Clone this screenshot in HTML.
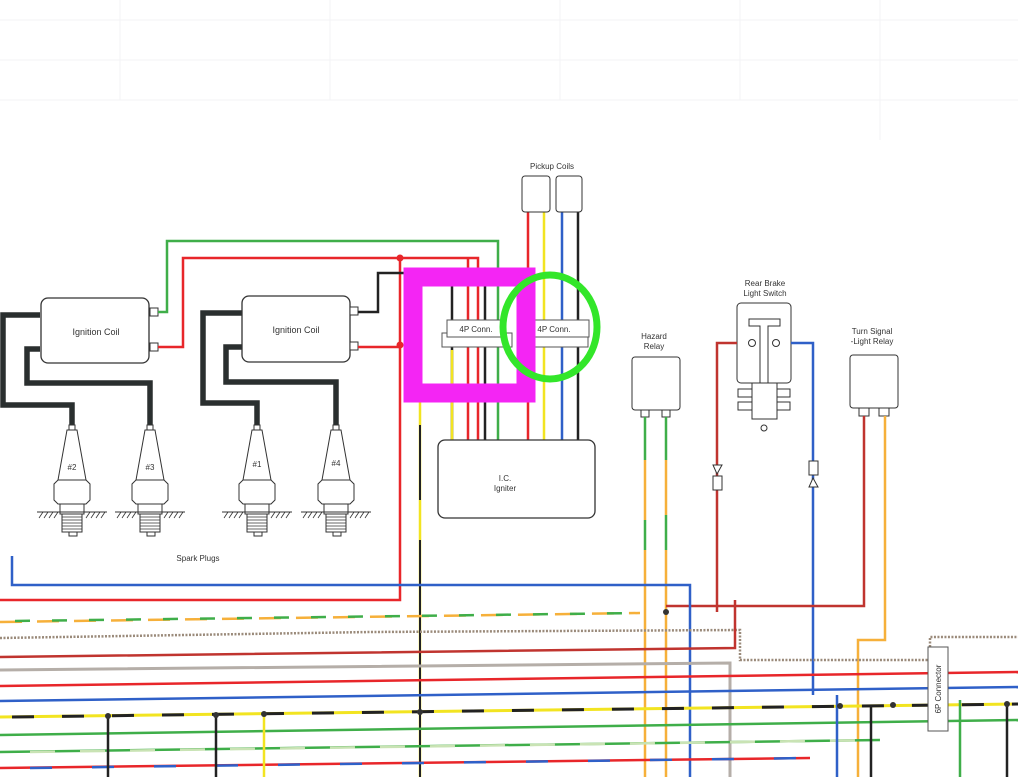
<!DOCTYPE html>
<html><head><meta charset="utf-8"><style>
html,body{margin:0;padding:0;background:#fff;}
svg{display:block;}
text{font-family:"Liberation Sans",sans-serif;fill:#333;}
</style></head><body>
<svg width="1018" height="777" viewBox="0 0 1018 777" xmlns="http://www.w3.org/2000/svg">
<defs>
<g id="plug">
  <path d="M-3,-5 L3,-5 L3,0 L-3,0Z" fill="#fff" stroke="#333"/>
  <path d="M-5,0 L5,0 L14,50 L-14,50Z" fill="#fff" stroke="#333"/>
  <path d="M-18,54 L-14,50 L14,50 L18,54 L18,70 L14,74 L-14,74 L-18,70Z" fill="#fff" stroke="#333"/>
  <rect x="-12" y="74" width="24" height="10" fill="#fff" stroke="#333"/>
  <rect x="-10" y="84" width="20" height="18" fill="#fff" stroke="#333"/>
  <path d="M-10,87h20M-10,90h20M-10,93h20M-10,96h20M-10,99h20" stroke="#333" stroke-width="0.8"/>
  <path d="M-3,102 v4 h8 v-4" fill="none" stroke="#333"/>
  <path d="M-35,82 H35" stroke="#333"/>
  <path d="M-33,88 l4,-6 M-28,88 l4,-6 M-23,88 l4,-6 M-18,88 l4,-6 M14,88 l4,-6 M19,88 l4,-6 M24,88 l4,-6 M29,88 l4,-6" stroke="#333" stroke-width="0.8"/>
</g>
</defs>

<g stroke="#f3f3f6" stroke-width="1" fill="none">
  <path d="M0,60 H1018 M0,100 H1018 M120,0 V100 M330,0 V100 M560,0 V100 M740,0 V100 M880,0 V140 M0,20 H1018"/>
</g>

<g stroke="#2a2f2f" stroke-width="5.5" fill="none">
  <path d="M40,315 H3 V405 H72 V428"/>
  <path d="M40,349 H27 V383 H150 V428"/>
  <path d="M242,313 H203 V403 H257 V428"/>
  <path d="M242,347 H226 V382 H336 V428"/>
</g>

<rect x="41" y="298" width="108" height="65" rx="7" fill="#fff" stroke="#333" stroke-width="1.3"/>
<text x="96" y="335" font-size="9" text-anchor="middle">Ignition Coil</text>
<rect x="242" y="296" width="108" height="66" rx="7" fill="#fff" stroke="#333" stroke-width="1.3"/>
<text x="296" y="333" font-size="9" text-anchor="middle">Ignition    Coil</text>
<g fill="#fff" stroke="#333">
  <rect x="150" y="308" width="8" height="8"/><rect x="150" y="343" width="8" height="8"/>
  <rect x="350" y="307" width="8" height="8"/><rect x="350" y="342" width="8" height="8"/>
</g>

<use href="#plug" x="72" y="430"/>
<use href="#plug" x="150" y="430"/>
<use href="#plug" x="257" y="430"/>
<use href="#plug" x="336" y="430"/>
<text x="72" y="470" font-size="8" text-anchor="middle">#2</text>
<text x="150" y="470" font-size="8" text-anchor="middle">#3</text>
<text x="257" y="467" font-size="8" text-anchor="middle">#1</text>
<text x="336" y="466" font-size="8" text-anchor="middle">#4</text>
<text x="198" y="561" font-size="8" text-anchor="middle">Spark Plugs</text>

<g fill="none" stroke-width="2.5">
  <path d="M158,312 H167 V241 H498 V440" stroke="#3fae49"/>
  <path d="M158,347 H183 V258 H478 V440" stroke="#e8262a"/>
  <path d="M358,347 H400" stroke="#e8262a"/>
  <path d="M400,258 V600 H0" stroke="#e8262a"/>
  <path d="M358,312 H378 V273 H452 V440" stroke="#222"/>
  <path d="M468,258 V440" stroke="#e8262a"/>
  <path d="M485,285 V440" stroke="#222"/>
  <path d="M420,390 V777" stroke="#f2e421"/>
  <path d="M420,425 V500 M420,540 V777" stroke="#222" stroke-width="2"/>
  <path d="M528,212 V440" stroke="#e8262a"/>
  <path d="M544,212 V440" stroke="#f2e421"/>
  <path d="M562,212 V440" stroke="#2f60c8"/>
  <path d="M578,212 V440" stroke="#222"/>
  <path d="M452,350 V440" stroke="#f2e421"/>
</g>
<circle cx="400" cy="258" r="3.5" fill="#e8262a"/>
<circle cx="400" cy="345" r="3.5" fill="#e8262a"/>

<text x="552" y="169" font-size="8" text-anchor="middle">Pickup Coils</text>
<rect x="522" y="176" width="28" height="36" rx="3" fill="#fff" stroke="#333"/>
<rect x="556" y="176" width="26" height="36" rx="3" fill="#fff" stroke="#333"/>

<g fill="#fff" stroke="#555">
  <rect x="442" y="333" width="70" height="14"/>
  <rect x="447" y="320" width="58" height="17"/>
  <rect x="534" y="333" width="54" height="14"/>
  <rect x="535" y="320" width="54" height="17"/>
</g>
<text x="476" y="332" font-size="8" text-anchor="middle">4P Conn.</text>
<text x="554" y="332" font-size="8" text-anchor="middle">4P Conn.</text>

<rect x="438" y="440" width="157" height="78" rx="7" fill="#fff" stroke="#333" stroke-width="1.3"/>
<text x="505" y="481" font-size="8" text-anchor="middle">I.C.</text>
<text x="505" y="491" font-size="8" text-anchor="middle">Igniter</text>

<rect x="413" y="277" width="113" height="116" fill="none" stroke="#f425f4" stroke-width="19"/>
<ellipse cx="550" cy="327" rx="47" ry="52" fill="none" stroke="#33e62a" stroke-width="7"/>

<text x="654" y="339" font-size="8" text-anchor="middle">Hazard</text>
<text x="654" y="349" font-size="8" text-anchor="middle">Relay</text>
<rect x="632" y="357" width="48" height="53" rx="3" fill="#fff" stroke="#333"/>
<rect x="641" y="410" width="8" height="7" fill="#fff" stroke="#333"/>
<rect x="662" y="410" width="8" height="7" fill="#fff" stroke="#333"/>
<g fill="none" stroke-width="2.5">
  <path d="M645,417 V460" stroke="#3fae49"/><path d="M645,460 V520" stroke="#f6b03a"/><path d="M645,520 V550" stroke="#3fae49"/><path d="M645,550 V777" stroke="#f6b03a"/>
  <path d="M666,417 V460" stroke="#3fae49"/><path d="M666,460 V515" stroke="#f6b03a"/><path d="M666,515 V550" stroke="#3fae49"/><path d="M666,550 V777" stroke="#f6b03a"/>
</g>

<text x="765" y="286" font-size="8" text-anchor="middle">Rear Brake</text>
<text x="765" y="296" font-size="8" text-anchor="middle">Light Switch</text>
<rect x="737" y="303" width="54" height="80" rx="4" fill="#fff" stroke="#333"/>
<path d="M749,319 H780 V326 H768 V383 H760 V326 H749Z" fill="#fff" stroke="#333"/>
<circle cx="752" cy="343" r="3.5" fill="#fff" stroke="#333"/>
<circle cx="776" cy="343" r="3.5" fill="#fff" stroke="#333"/>
<rect x="738" y="389" width="52" height="8" fill="#fff" stroke="#333"/>
<rect x="738" y="402" width="52" height="8" fill="#fff" stroke="#333"/>
<rect x="752" y="383" width="25" height="36" fill="#fff" stroke="#333"/>
<circle cx="764" cy="428" r="3" fill="#fff" stroke="#333"/>
<g fill="none" stroke-width="2.5">
  <path d="M737,343 H717 V612" stroke="#c0342f"/>
  <path d="M791,343 H813 V695" stroke="#2f60c8"/>
</g>
<rect x="713" y="476" width="9" height="14" fill="#fff" stroke="#333"/>
<path d="M713,465 L722,465 L717,474Z" fill="#fff" stroke="#333"/>
<rect x="809" y="461" width="9" height="14" fill="#fff" stroke="#333"/>
<path d="M809,487 L818,487 L813,478Z" fill="#fff" stroke="#333"/>

<text x="872" y="334" font-size="8" text-anchor="middle">Turn Signal</text>
<text x="872" y="344" font-size="8" text-anchor="middle">-Light Relay</text>
<rect x="850" y="355" width="48" height="53" rx="3" fill="#fff" stroke="#333"/>
<rect x="859" y="408" width="10" height="8" fill="#fff" stroke="#333"/>
<rect x="879" y="408" width="10" height="8" fill="#fff" stroke="#333"/>
<g fill="none" stroke-width="2.5">
  <path d="M864,416 V606 H666" stroke="#c0342f"/>
  <path d="M885,416 V640 H858 V777" stroke="#f6b03a"/>
</g>

<g fill="none" stroke-width="2.5">
  <path d="M12,556 V585 H690 V777" stroke="#2f60c8"/>
  <path d="M0,622 L640,613" stroke="#f6b03a" stroke-dasharray="22,15"/>
  <path d="M15,621 L640,613" stroke="#3fae49" stroke-dasharray="15,22"/>
  <path d="M0,638 L370,632 L740,630 V660 H930 V637 H1018" stroke="#9a8a7a" stroke-dasharray="2,1.5"/>
  <path d="M0,657 L735,648 V600" stroke="#c0342f"/>
  <path d="M0,670 L730,663 V777" stroke="#b5aea8" stroke-width="3"/>
  <path d="M0,686 L1018,672" stroke="#e8262a"/>
  <path d="M0,701 L1018,687" stroke="#2f60c8"/>
  <path d="M0,717 L1018,704" stroke="#f2e421" stroke-width="3"/>
  <path d="M12,717 L1018,704" stroke="#222" stroke-width="3" stroke-dasharray="22,28"/>
  <path d="M0,735 L1018,720" stroke="#3fae49"/>
  <path d="M0,752 L880,740" stroke="#3fae49"/>
  <path d="M30,752 L880,740" stroke="#c9e3b4" stroke-dasharray="25,25"/>
  <path d="M0,768 L810,758" stroke="#e8262a"/>
  <path d="M30,768 L810,758" stroke="#2f60c8" stroke-dasharray="22,40"/>
  <path d="M108,717 V777 M216,716 V777 M871,705 V777 M1007,705 V777" stroke="#222"/>
  <path d="M264,715 V777" stroke="#f2e421"/>
  <path d="M837,695 V777" stroke="#2f60c8"/>
  <path d="M960,700 V777" stroke="#3fae49"/>
</g>
<g fill="#333">
  <circle cx="108" cy="716" r="3"/><circle cx="216" cy="715" r="3"/><circle cx="264" cy="714" r="3"/>
  <circle cx="420" cy="712" r="3"/><circle cx="666" cy="612" r="3"/><circle cx="840" cy="706" r="3"/><circle cx="893" cy="705" r="3"/><circle cx="1007" cy="704" r="3"/>
</g>
<rect x="928" y="647" width="20" height="84" fill="#fff" stroke="#555"/>
<text x="941" y="689" font-size="8" text-anchor="middle" transform="rotate(-90 941 689)">6P Connector</text>
</svg>
</body></html>
